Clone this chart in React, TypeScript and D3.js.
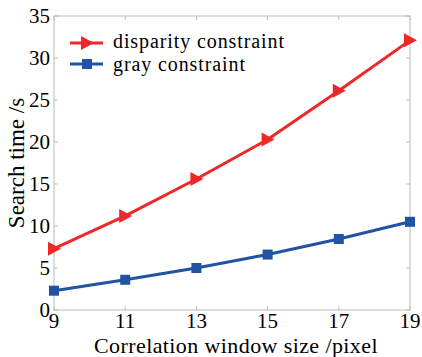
import React from "react";
import * as d3 from "d3";

const windowSizes = [9, 11, 13, 15, 17, 19];
const disparityTimes = [7.3, 11.2, 15.6, 20.3, 26.1, 32.1];
const grayTimes = [2.3, 3.6, 5.0, 6.6, 8.45, 10.5];
const yTicks = [0, 5, 10, 15, 20, 25, 30, 35];

const W = 422;
const H = 357;
const margin = { top: 16, right: 12, bottom: 47, left: 54 };
const font = "'Liberation Serif', 'Times New Roman', serif";
const red = "#ee2828";
const blue = "#2152a3";

export default function App() {
  const x = d3.scaleLinear().domain([9, 19]).range([margin.left, W - margin.right]);
  const y = d3.scaleLinear().domain([0, 35]).range([H - margin.bottom, margin.top]);
  const line = d3.line<[number, number]>().x(d => x(d[0])).y(d => y(d[1]));
  const redPts = windowSizes.map((s, i) => [s, disparityTimes[i]] as [number, number]);
  const bluePts = windowSizes.map((s, i) => [s, grayTimes[i]] as [number, number]);
  const tri = (cx: number, cy: number) => `M${cx - 6},${cy - 7}L${cx + 7},${cy}L${cx - 6},${cy + 7}Z`;
  const x0 = margin.left, x1 = W - margin.right, y0 = margin.top, y1 = H - margin.bottom;

  return (
    <svg width={W} height={H} style={{ position: "absolute", left: 0, top: 0, background: "#fff" }}>
      <rect x={x0} y={y0} width={x1 - x0} height={y1 - y0} fill="none" stroke="#bbb" strokeWidth={1} />
      {yTicks.map(t => (
        <g key={t}>
          <line x1={x0} x2={x0 + 4} y1={y(t)} y2={y(t)} stroke="#bbb" />
          <line x1={x1} x2={x1 - 4} y1={y(t)} y2={y(t)} stroke="#bbb" />
          <text x={x0 - 4} y={y(t) + 7} textAnchor="end" fontFamily={font} fontSize={21}>{t}</text>
        </g>
      ))}
      {windowSizes.map(t => (
        <g key={t}>
          <line x1={x(t)} x2={x(t)} y1={y1} y2={y1 - 4} stroke="#bbb" />
          <line x1={x(t)} x2={x(t)} y1={y0} y2={y0 + 4} stroke="#bbb" />
          <text x={x(t)} y={y1 + 18} textAnchor="middle" fontFamily={font} fontSize={21}>{t}</text>
        </g>
      ))}
      <path d={line(redPts) || ""} fill="none" stroke={red} strokeWidth={3} />
      {redPts.map((p, i) => <path key={i} d={tri(x(p[0]), y(p[1]))} fill={red} />)}
      <path d={line(bluePts) || ""} fill="none" stroke={blue} strokeWidth={3} />
      {bluePts.map((p, i) => (
        <rect key={i} x={x(p[0]) - 5} y={y(p[1]) - 5} width={10} height={10} fill={blue} />
      ))}
      <g>
        <line x1={70} x2={103} y1={43} y2={43} stroke={red} strokeWidth={3} />
        <path d={tri(87, 43)} fill={red} />
        <text x={113} y={48} fontFamily={font} fontSize={20} letterSpacing={0.9}>disparity constraint</text>
        <line x1={70} x2={103} y1={64} y2={64} stroke={blue} strokeWidth={3} />
        <rect x={82} y={59} width={10} height={10} fill={blue} />
        <text x={113} y={71} fontFamily={font} fontSize={20} letterSpacing={0.9}>gray constraint</text>
      </g>
      <text x={(x0 + x1) / 2 + 4} y={H - 4} textAnchor="middle" fontFamily={font} fontSize={22} letterSpacing={0.4}>
        Correlation window size /pixel
      </text>
      <text transform={`translate(24,${(y0 + y1) / 2}) rotate(-90)`} textAnchor="middle" fontFamily={font} fontSize={23}>
        Search time /s
      </text>
    </svg>
  );
}
